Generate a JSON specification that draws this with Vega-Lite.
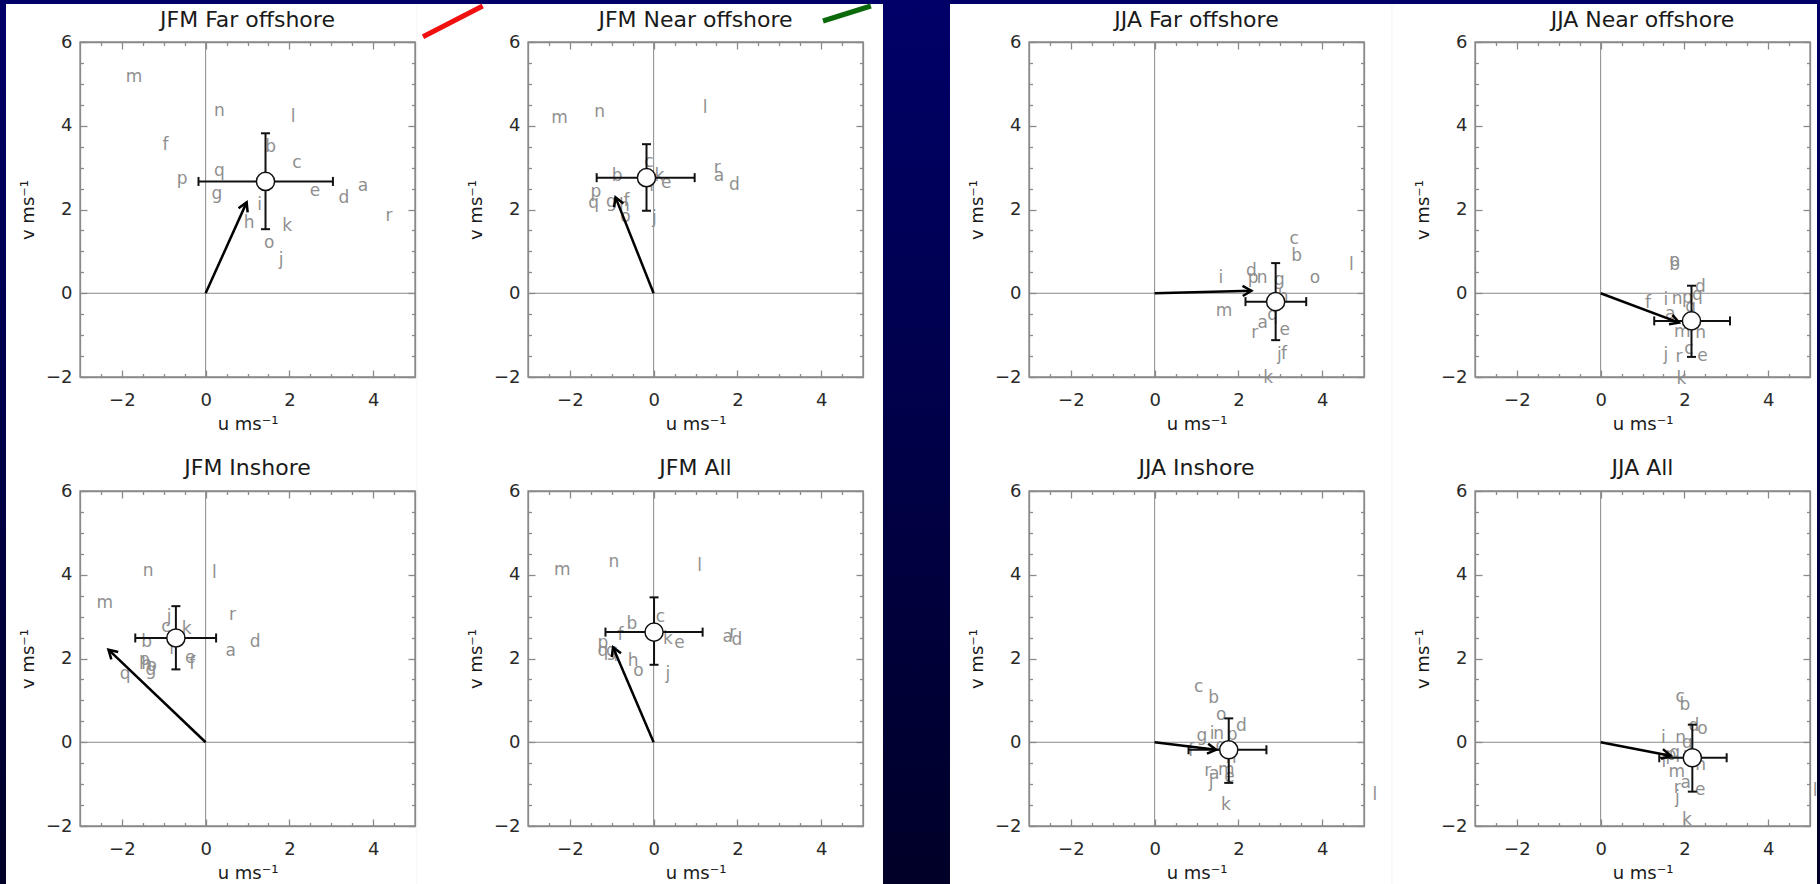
{
"$schema":"https://vega.github.io/schema/vega-lite/v6.json",
"background":"#000044",
"padding":0,
"columns":4,
"spacing":0,
"bounds":"full",
"align":"each",
"config":{
 "view":{"stroke":null},
 "title":{"font":"DejaVu Sans","fontSize":22,"fontWeight":"normal","color":"#1a1a1a","baseline":"alphabetic","frame":"group","anchor":"middle"},
 "axis":{"zindex":1,"grid":false,"domainColor":"#8a8a8a","tickColor":"#8a8a8a","domainWidth":1.3,"tickWidth":1.3,"labelColor":"#2a2a2a","titleColor":"#1a1a1a","labelFont":"DejaVu Sans","labelFontSize":18,"titleFont":"DejaVu Sans","titleFontSize":18,"titleFontWeight":"normal"}
},
"datasets":{
"letters":[
{"panel":"p1","lab":"a","u":3.76,"v":2.57},{"panel":"p1","lab":"b","u":1.55,"v":3.50},{"panel":"p1","lab":"c","u":2.18,"v":3.11},{"panel":"p1","lab":"d","u":3.30,"v":2.28},{"panel":"p1","lab":"e","u":2.61,"v":2.43},{"panel":"p1","lab":"f","u":-0.96,"v":3.53},{"panel":"p1","lab":"g","u":0.27,"v":2.37},{"panel":"p1","lab":"h","u":1.04,"v":1.67},{"panel":"p1","lab":"i","u":1.29,"v":2.11},{"panel":"p1","lab":"j","u":1.80,"v":0.80},{"panel":"p1","lab":"k","u":1.95,"v":1.61},{"panel":"p1","lab":"l","u":2.09,"v":4.22},{"panel":"p1","lab":"m","u":-1.71,"v":5.16},{"panel":"p1","lab":"n","u":0.33,"v":4.36},{"panel":"p1","lab":"o","u":1.52,"v":1.19},{"panel":"p1","lab":"p","u":-0.56,"v":2.73},{"panel":"p1","lab":"q","u":0.33,"v":2.92},{"panel":"p1","lab":"r","u":4.38,"v":1.85},
{"panel":"p2","lab":"a","u":1.56,"v":2.81},{"panel":"p2","lab":"b","u":-0.87,"v":2.81},{"panel":"p2","lab":"c","u":-0.11,"v":3.14},{"panel":"p2","lab":"d","u":1.93,"v":2.59},{"panel":"p2","lab":"e","u":0.30,"v":2.63},{"panel":"p2","lab":"f","u":-0.65,"v":2.21},{"panel":"p2","lab":"g","u":-1.01,"v":2.19},{"panel":"p2","lab":"h","u":-0.70,"v":2.08},{"panel":"p2","lab":"i","u":-0.05,"v":2.55},{"panel":"p2","lab":"j","u":0.02,"v":1.79},{"panel":"p2","lab":"k","u":0.14,"v":2.79},{"panel":"p2","lab":"l","u":1.23,"v":4.42},{"panel":"p2","lab":"m","u":-2.25,"v":4.18},{"panel":"p2","lab":"n","u":-1.29,"v":4.32},{"panel":"p2","lab":"o","u":-0.67,"v":1.82},{"panel":"p2","lab":"p","u":-1.38,"v":2.41},{"panel":"p2","lab":"q","u":-1.43,"v":2.15},{"panel":"p2","lab":"r","u":1.52,"v":3.00},
{"panel":"p3","lab":"a","u":2.58,"v":-0.72},{"panel":"p3","lab":"b","u":3.39,"v":0.88},{"panel":"p3","lab":"c","u":3.33,"v":1.30},{"panel":"p3","lab":"d","u":2.31,"v":0.52},{"panel":"p3","lab":"e","u":3.11,"v":-0.88},{"panel":"p3","lab":"f","u":3.09,"v":-1.44},{"panel":"p3","lab":"g","u":2.98,"v":0.32},{"panel":"p3","lab":"h","u":3.07,"v":-0.08},{"panel":"p3","lab":"i","u":1.58,"v":0.36},{"panel":"p3","lab":"j","u":2.98,"v":-1.48},{"panel":"p3","lab":"k","u":2.71,"v":-2.02},{"panel":"p3","lab":"l","u":4.70,"v":0.68},{"panel":"p3","lab":"m","u":1.66,"v":-0.42},{"panel":"p3","lab":"n","u":2.57,"v":0.36},{"panel":"p3","lab":"o","u":3.83,"v":0.36},{"panel":"p3","lab":"p","u":2.35,"v":0.36},{"panel":"p3","lab":"q","u":2.82,"v":-0.52},{"panel":"p3","lab":"r","u":2.39,"v":-0.96},
{"panel":"p4","lab":"a","u":1.66,"v":-0.50},{"panel":"p4","lab":"b","u":1.77,"v":0.68},{"panel":"p4","lab":"c","u":2.11,"v":-1.32},{"panel":"p4","lab":"d","u":2.38,"v":0.16},{"panel":"p4","lab":"e","u":2.43,"v":-1.50},{"panel":"p4","lab":"f","u":1.13,"v":-0.24},{"panel":"p4","lab":"g","u":2.15,"v":-0.34},{"panel":"p4","lab":"h","u":2.39,"v":-0.96},{"panel":"p4","lab":"i","u":1.56,"v":-0.16},{"panel":"p4","lab":"j","u":1.56,"v":-1.48},{"panel":"p4","lab":"k","u":1.93,"v":-2.04},{"panel":"p4","lab":"m","u":1.95,"v":-0.92},{"panel":"p4","lab":"n","u":1.83,"v":-0.14},{"panel":"p4","lab":"o","u":1.77,"v":0.76},{"panel":"p4","lab":"p","u":2.07,"v":-0.12},{"panel":"p4","lab":"q","u":2.31,"v":-0.04},{"panel":"p4","lab":"r","u":1.87,"v":-1.52},
{"panel":"p5","lab":"a","u":0.60,"v":2.17},{"panel":"p5","lab":"b","u":-1.41,"v":2.39},{"panel":"p5","lab":"c","u":-0.95,"v":2.75},{"panel":"p5","lab":"d","u":1.18,"v":2.40},{"panel":"p5","lab":"e","u":-0.37,"v":2.01},{"panel":"p5","lab":"f","u":-0.32,"v":1.87},{"panel":"p5","lab":"g","u":-1.31,"v":1.73},{"panel":"p5","lab":"h","u":-1.41,"v":1.86},{"panel":"p5","lab":"i","u":-0.81,"v":2.23},{"panel":"p5","lab":"j","u":-0.87,"v":2.99},{"panel":"p5","lab":"k","u":-0.45,"v":2.71},{"panel":"p5","lab":"l","u":0.21,"v":4.04},{"panel":"p5","lab":"m","u":-2.41,"v":3.32},{"panel":"p5","lab":"n","u":-1.37,"v":4.08},{"panel":"p5","lab":"o","u":-1.29,"v":1.83},{"panel":"p5","lab":"p","u":-1.46,"v":1.97},{"panel":"p5","lab":"q","u":-1.92,"v":1.62},{"panel":"p5","lab":"r","u":0.64,"v":3.03},
{"panel":"p6","lab":"a","u":1.77,"v":2.51},{"panel":"p6","lab":"b","u":-0.52,"v":2.83},{"panel":"p6","lab":"c","u":0.16,"v":2.99},{"panel":"p6","lab":"d","u":1.99,"v":2.44},{"panel":"p6","lab":"e","u":0.62,"v":2.36},{"panel":"p6","lab":"f","u":-0.79,"v":2.55},{"panel":"p6","lab":"g","u":-1.01,"v":2.17},{"panel":"p6","lab":"h","u":-0.49,"v":1.93},{"panel":"p6","lab":"i","u":-0.90,"v":2.05},{"panel":"p6","lab":"j","u":0.34,"v":1.63},{"panel":"p6","lab":"k","u":0.34,"v":2.47},{"panel":"p6","lab":"l","u":1.10,"v":4.22},{"panel":"p6","lab":"m","u":-2.18,"v":4.12},{"panel":"p6","lab":"n","u":-0.95,"v":4.30},{"panel":"p6","lab":"o","u":-0.36,"v":1.69},{"panel":"p6","lab":"p","u":-1.21,"v":2.37},{"panel":"p6","lab":"q","u":-1.21,"v":2.17},{"panel":"p6","lab":"r","u":1.89,"v":2.61},
{"panel":"p7","lab":"a","u":1.42,"v":-0.76},{"panel":"p7","lab":"b","u":1.41,"v":1.05},{"panel":"p7","lab":"c","u":1.05,"v":1.33},{"panel":"p7","lab":"d","u":2.07,"v":0.38},{"panel":"p7","lab":"e","u":1.79,"v":-0.82},{"panel":"p7","lab":"f","u":0.87,"v":-0.22},{"panel":"p7","lab":"g","u":1.13,"v":0.14},{"panel":"p7","lab":"h","u":1.83,"v":-0.38},{"panel":"p7","lab":"i","u":1.37,"v":0.20},{"panel":"p7","lab":"j","u":1.35,"v":-0.94},{"panel":"p7","lab":"k","u":1.70,"v":-1.49},{"panel":"p7","lab":"l","u":5.26,"v":-1.26},{"panel":"p7","lab":"m","u":1.71,"v":-0.66},{"panel":"p7","lab":"n","u":1.53,"v":0.20},{"panel":"p7","lab":"o","u":1.59,"v":0.65},{"panel":"p7","lab":"p","u":1.85,"v":0.18},{"panel":"p7","lab":"q","u":1.58,"v":-0.09},{"panel":"p7","lab":"r","u":1.27,"v":-0.68},
{"panel":"p8","lab":"a","u":2.03,"v":-0.98},{"panel":"p8","lab":"b","u":2.01,"v":0.88},{"panel":"p8","lab":"c","u":1.90,"v":1.09},{"panel":"p8","lab":"d","u":2.23,"v":0.38},{"panel":"p8","lab":"e","u":2.38,"v":-1.14},{"panel":"p8","lab":"f","u":1.52,"v":-0.46},{"panel":"p8","lab":"g","u":2.07,"v":-0.02},{"panel":"p8","lab":"h","u":2.39,"v":-0.54},{"panel":"p8","lab":"i","u":1.50,"v":0.10},{"panel":"p8","lab":"j","u":1.83,"v":-1.34},{"panel":"p8","lab":"k","u":2.06,"v":-1.86},{"panel":"p8","lab":"l","u":5.12,"v":-1.17},{"panel":"p8","lab":"m","u":1.82,"v":-0.70},{"panel":"p8","lab":"n","u":1.91,"v":0.10},{"panel":"p8","lab":"o","u":2.43,"v":0.31},{"panel":"p8","lab":"p","u":1.68,"v":-0.30},{"panel":"p8","lab":"q","u":1.77,"v":-0.26},{"panel":"p8","lab":"r","u":1.83,"v":-1.10}
],
"stats":[
{"panel":"p1","um":1.43,"vm":2.67,"ulo":-0.17,"uhi":3.04,"vlo":1.53,"vhi":3.82,"u0":0,"v0":0,"au":0.98,"av":2.17},
{"panel":"p2","um":-0.17,"vm":2.76,"ulo":-1.36,"uhi":0.98,"vlo":1.97,"vhi":3.56,"u0":0,"v0":0,"au":-0.91,"av":2.29},
{"panel":"p3","um":2.89,"vm":-0.20,"ulo":2.17,"uhi":3.62,"vlo":-1.12,"vhi":0.72,"u0":0,"v0":0,"au":2.31,"av":0.06},
{"panel":"p4","um":2.17,"vm":-0.66,"ulo":1.28,"uhi":3.09,"vlo":-1.52,"vhi":0.18,"u0":0,"v0":0,"au":1.87,"av":-0.70},
{"panel":"p5","um":-0.71,"vm":2.49,"ulo":-1.68,"uhi":0.25,"vlo":1.74,"vhi":3.25,"u0":0,"v0":0,"au":-2.32,"av":2.21},
{"panel":"p6","um":0.01,"vm":2.63,"ulo":-1.15,"uhi":1.17,"vlo":1.85,"vhi":3.46,"u0":0,"v0":0,"au":-0.97,"av":2.27},
{"panel":"p7","um":1.77,"vm":-0.18,"ulo":0.81,"uhi":2.67,"vlo":-0.97,"vhi":0.57,"u0":0,"v0":0,"au":1.47,"av":-0.18},
{"panel":"p8","um":2.19,"vm":-0.37,"ulo":1.40,"uhi":3.01,"vlo":-1.18,"vhi":0.42,"u0":0,"v0":0,"au":1.67,"av":-0.32}
]
},
"concat":[
{"title":{"text":"JFM Far offshore","offset":-32},"width":335,"height":335,"resolve":{"axis":{"x":"independent","y":"independent"}},
"layer":[
{"data":{"values":[{}]},"mark":{"type":"rect","fill":{"gradient":"linear","x1":0,"y1":0,"x2":0,"y2":1,"stops":[{"offset":0,"color":"#000068"},{"offset":1,"color":"#000048"}]}},"encoding":{"x":{"datum":-4.90997,"type":"quantitative","scale":{"domain":[-3,5],"nice":false,"zero":false},"axis":null},"x2":{"datum":5.047284},"y":{"datum":7.002507,"type":"quantitative","scale":{"domain":[-2,6],"nice":false,"zero":false},"axis":null},"y2":{"datum":-3.504}}},
{"data":{"values":[{}]},"mark":{"type":"rect","fill":"#ffffff"},"encoding":{"x":{"datum":-4.76716,"type":"quantitative","scale":{"domain":[-3,5],"nice":false,"zero":false},"axis":null},"x2":{"datum":5.047284},"y":{"datum":6.90746,"type":"quantitative","scale":{"domain":[-2,6],"nice":false,"zero":false},"axis":null},"y2":{"datum":-3.504}}},
{"data":{"values":[{}]},"mark":{"type":"rule","color":"#8a8a8a","strokeWidth":1},"encoding":{"x":{"datum":0,"type":"quantitative","scale":{"domain":[-3,5],"nice":false,"zero":false},"axis":null},"y":{"datum":-2,"type":"quantitative","scale":{"domain":[-2,6],"nice":false,"zero":false},"axis":null},"y2":{"datum":6}}},
{"data":{"values":[{}]},"mark":{"type":"rule","color":"#8a8a8a","strokeWidth":1},"encoding":{"y":{"datum":0,"type":"quantitative","scale":{"domain":[-2,6],"nice":false,"zero":false},"axis":null},"x":{"datum":-3,"type":"quantitative","scale":{"domain":[-3,5],"nice":false,"zero":false},"axis":null},"x2":{"datum":5}}},
{"data":{"values":[{}]},"mark":{"type":"rect","fill":null,"stroke":"#8a8a8a","strokeWidth":1.3},"encoding":{"x":{"datum":-3,"type":"quantitative","scale":{"domain":[-3,5],"nice":false,"zero":false},"axis":null},"x2":{"datum":5},"y":{"datum":-2,"type":"quantitative","scale":{"domain":[-2,6],"nice":false,"zero":false},"axis":null},"y2":{"datum":6}}},
{"data":{"name":"letters"},"transform":[{"filter":"datum.panel === 'p1'"}],"mark":{"type":"text","font":"DejaVu Sans","fontSize":17,"color":"#8f8f8f","align":"center","baseline":"middle"},"encoding":{"x":{"field":"u","type":"quantitative","scale":{"domain":[-3,5],"nice":false,"zero":false},"axis":{"orient":"bottom","zindex":1,"values":[-2,0,2,4],"tickSize":-7,"labelPadding":21,"labelFlush":false,"labelOverlap":false,"title":"u  ms\u207b\u00b9","titleY":52,"titleBaseline":"alphabetic"}},"y":{"field":"v","type":"quantitative","scale":{"domain":[-2,6],"nice":false,"zero":false},"axis":{"orient":"left","zindex":1,"values":[-2,0,2,4,6],"tickSize":-7,"labelPadding":15,"labelFlush":false,"labelOverlap":false,"title":"v  ms\u207b\u00b9","titleX":-47,"titleBaseline":"alphabetic"}},"text":{"field":"lab"}}},
{"data":{"name":"stats"},"transform":[{"filter":"datum.panel === 'p1'"}],"mark":{"type":"rule","color":"#111111","strokeWidth":2},"encoding":{"x":{"field":"ulo","type":"quantitative","scale":{"domain":[-3,5],"nice":false,"zero":false},"axis":{"orient":"top","zindex":1,"values":[-2,0,2,4],"tickSize":-7,"labels":false,"title":null}},"x2":{"field":"uhi"},"y":{"field":"vm","type":"quantitative","scale":{"domain":[-2,6],"nice":false,"zero":false},"axis":{"orient":"right","zindex":1,"values":[-2,0,2,4,6],"tickSize":-7,"labels":false,"title":null}}}},
{"data":{"name":"stats"},"transform":[{"filter":"datum.panel === 'p1'"}],"mark":{"type":"rule","color":"#111111","strokeWidth":2},"encoding":{"x":{"field":"um","type":"quantitative","scale":{"domain":[-3,5],"nice":false,"zero":false},"axis":{"orient":"bottom","zindex":1,"values":[-2.5,-1.5,-1,-0.5,0.5,1,1.5,2.5,3,3.5,4.5],"tickSize":-3.5,"labels":false,"domain":false,"title":null}},"y":{"field":"vlo","type":"quantitative","scale":{"domain":[-2,6],"nice":false,"zero":false},"axis":{"orient":"left","zindex":1,"values":[-1.5,-1,-0.5,0.5,1,1.5,2.5,3,3.5,4.5,5,5.5],"tickSize":-3.5,"labels":false,"domain":false,"title":null}},"y2":{"field":"vhi"}}},
{"data":{"name":"stats"},"transform":[{"filter":"datum.panel === 'p1'"},{"fold":["ulo","uhi"],"as":["kind","cu"]}],"mark":{"type":"point","shape":"M 0 -1 L 0 1","filled":false,"stroke":"#111111","strokeWidth":2,"opacity":1,"size":81},"encoding":{"x":{"field":"cu","type":"quantitative","scale":{"domain":[-3,5],"nice":false,"zero":false},"axis":null},"y":{"field":"vm","type":"quantitative","scale":{"domain":[-2,6],"nice":false,"zero":false},"axis":null}}},
{"data":{"name":"stats"},"transform":[{"filter":"datum.panel === 'p1'"},{"fold":["vlo","vhi"],"as":["kind","cv"]}],"mark":{"type":"point","shape":"M -1 0 L 1 0","filled":false,"stroke":"#111111","strokeWidth":2,"opacity":1,"size":81},"encoding":{"x":{"field":"um","type":"quantitative","scale":{"domain":[-3,5],"nice":false,"zero":false},"axis":null},"y":{"field":"cv","type":"quantitative","scale":{"domain":[-2,6],"nice":false,"zero":false},"axis":null}}},
{"data":{"name":"stats"},"transform":[{"filter":"datum.panel === 'p1'"}],"mark":{"type":"circle","fill":"#ffffff","stroke":"#111111","strokeWidth":1.5,"opacity":1,"size":330},"encoding":{"x":{"field":"um","type":"quantitative","scale":{"domain":[-3,5],"nice":false,"zero":false},"axis":{"orient":"top","zindex":1,"values":[-2.5,-1.5,-1,-0.5,0.5,1,1.5,2.5,3,3.5,4.5],"tickSize":-3.5,"labels":false,"domain":false,"title":null}},"y":{"field":"vm","type":"quantitative","scale":{"domain":[-2,6],"nice":false,"zero":false},"axis":{"orient":"right","zindex":1,"values":[-1.5,-1,-0.5,0.5,1,1.5,2.5,3,3.5,4.5,5,5.5],"tickSize":-3.5,"labels":false,"domain":false,"title":null}}}},
{"data":{"name":"stats"},"transform":[{"filter":"datum.panel === 'p1'"}],"mark":{"type":"rule","color":"#000000","strokeWidth":2.5},"encoding":{"x":{"field":"u0","type":"quantitative","scale":{"domain":[-3,5],"nice":false,"zero":false},"axis":null},"y":{"field":"v0","type":"quantitative","scale":{"domain":[-2,6],"nice":false,"zero":false},"axis":null},"x2":{"field":"au"},"y2":{"field":"av"}}},
{"data":{"name":"stats"},"transform":[{"filter":"datum.panel === 'p1'"},{"calculate":"atan2(datum.au, datum.av) * 180 / PI","as":"ang"}],"mark":{"type":"point","shape":"M -0.5 0.87 L 0 0 L 0.5 0.87","filled":false,"stroke":"#000000","strokeWidth":2.5,"opacity":1,"size":400,"strokeJoin":"miter"},"encoding":{"x":{"field":"au","type":"quantitative","scale":{"domain":[-3,5],"nice":false,"zero":false},"axis":null},"y":{"field":"av","type":"quantitative","scale":{"domain":[-2,6],"nice":false,"zero":false},"axis":null},"angle":{"field":"ang","type":"quantitative","scale":null}}}
]},
{"title":{"text":"JFM Near offshore","offset":-32},"width":335,"height":335,"resolve":{"axis":{"x":"independent","y":"independent"}},
"layer":[
{"data":{"values":[{}]},"mark":{"type":"rect","fill":{"gradient":"linear","x1":0,"y1":0,"x2":0,"y2":1,"stops":[{"offset":0,"color":"#000068"},{"offset":1,"color":"#000048"}]}},"encoding":{"x":{"datum":-5.650269,"type":"quantitative","scale":{"domain":[-3,5],"nice":false,"zero":false},"axis":null},"x2":{"datum":6.265194},"y":{"datum":7.002507,"type":"quantitative","scale":{"domain":[-2,6],"nice":false,"zero":false},"axis":null},"y2":{"datum":-3.504}}},
{"data":{"values":[{}]},"mark":{"type":"rect","fill":"#ffffff"},"encoding":{"x":{"datum":-5.650269,"type":"quantitative","scale":{"domain":[-3,5],"nice":false,"zero":false},"axis":null},"x2":{"datum":5.47761},"y":{"datum":6.90746,"type":"quantitative","scale":{"domain":[-2,6],"nice":false,"zero":false},"axis":null},"y2":{"datum":-3.504}}},
{"data":{"values":[{}]},"mark":{"type":"rule","color":"#f01010","strokeWidth":5},"encoding":{"x":{"datum":-5.50746,"type":"quantitative","scale":{"domain":[-3,5],"nice":false,"zero":false},"axis":null},"y":{"datum":6.12418,"type":"quantitative","scale":{"domain":[-2,6],"nice":false,"zero":false},"axis":null},"x2":{"datum":-4.08179},"y2":{"datum":6.859701}}},
{"data":{"values":[{}]},"mark":{"type":"rule","color":"#0a6a0a","strokeWidth":5},"encoding":{"x":{"datum":4.04478,"type":"quantitative","scale":{"domain":[-3,5],"nice":false,"zero":false},"axis":null},"y":{"datum":6.50149,"type":"quantitative","scale":{"domain":[-2,6],"nice":false,"zero":false},"axis":null},"x2":{"datum":5.18866},"y2":{"datum":6.859701}}},
{"data":{"values":[{}]},"mark":{"type":"rule","color":"#8a8a8a","strokeWidth":1},"encoding":{"x":{"datum":0,"type":"quantitative","scale":{"domain":[-3,5],"nice":false,"zero":false},"axis":null},"y":{"datum":-2,"type":"quantitative","scale":{"domain":[-2,6],"nice":false,"zero":false},"axis":null},"y2":{"datum":6}}},
{"data":{"values":[{}]},"mark":{"type":"rule","color":"#8a8a8a","strokeWidth":1},"encoding":{"y":{"datum":0,"type":"quantitative","scale":{"domain":[-2,6],"nice":false,"zero":false},"axis":null},"x":{"datum":-3,"type":"quantitative","scale":{"domain":[-3,5],"nice":false,"zero":false},"axis":null},"x2":{"datum":5}}},
{"data":{"values":[{}]},"mark":{"type":"rect","fill":null,"stroke":"#8a8a8a","strokeWidth":1.3},"encoding":{"x":{"datum":-3,"type":"quantitative","scale":{"domain":[-3,5],"nice":false,"zero":false},"axis":null},"x2":{"datum":5},"y":{"datum":-2,"type":"quantitative","scale":{"domain":[-2,6],"nice":false,"zero":false},"axis":null},"y2":{"datum":6}}},
{"data":{"name":"letters"},"transform":[{"filter":"datum.panel === 'p2'"}],"mark":{"type":"text","font":"DejaVu Sans","fontSize":17,"color":"#8f8f8f","align":"center","baseline":"middle"},"encoding":{"x":{"field":"u","type":"quantitative","scale":{"domain":[-3,5],"nice":false,"zero":false},"axis":{"orient":"bottom","zindex":1,"values":[-2,0,2,4],"tickSize":-7,"labelPadding":21,"labelFlush":false,"labelOverlap":false,"title":"u  ms\u207b\u00b9","titleY":52,"titleBaseline":"alphabetic"}},"y":{"field":"v","type":"quantitative","scale":{"domain":[-2,6],"nice":false,"zero":false},"axis":{"orient":"left","zindex":1,"values":[-2,0,2,4,6],"tickSize":-7,"labelPadding":15,"labelFlush":false,"labelOverlap":false,"title":"v  ms\u207b\u00b9","titleX":-47,"titleBaseline":"alphabetic"}},"text":{"field":"lab"}}},
{"data":{"name":"stats"},"transform":[{"filter":"datum.panel === 'p2'"}],"mark":{"type":"rule","color":"#111111","strokeWidth":2},"encoding":{"x":{"field":"ulo","type":"quantitative","scale":{"domain":[-3,5],"nice":false,"zero":false},"axis":{"orient":"top","zindex":1,"values":[-2,0,2,4],"tickSize":-7,"labels":false,"title":null}},"x2":{"field":"uhi"},"y":{"field":"vm","type":"quantitative","scale":{"domain":[-2,6],"nice":false,"zero":false},"axis":{"orient":"right","zindex":1,"values":[-2,0,2,4,6],"tickSize":-7,"labels":false,"title":null}}}},
{"data":{"name":"stats"},"transform":[{"filter":"datum.panel === 'p2'"}],"mark":{"type":"rule","color":"#111111","strokeWidth":2},"encoding":{"x":{"field":"um","type":"quantitative","scale":{"domain":[-3,5],"nice":false,"zero":false},"axis":{"orient":"bottom","zindex":1,"values":[-2.5,-1.5,-1,-0.5,0.5,1,1.5,2.5,3,3.5,4.5],"tickSize":-3.5,"labels":false,"domain":false,"title":null}},"y":{"field":"vlo","type":"quantitative","scale":{"domain":[-2,6],"nice":false,"zero":false},"axis":{"orient":"left","zindex":1,"values":[-1.5,-1,-0.5,0.5,1,1.5,2.5,3,3.5,4.5,5,5.5],"tickSize":-3.5,"labels":false,"domain":false,"title":null}},"y2":{"field":"vhi"}}},
{"data":{"name":"stats"},"transform":[{"filter":"datum.panel === 'p2'"},{"fold":["ulo","uhi"],"as":["kind","cu"]}],"mark":{"type":"point","shape":"M 0 -1 L 0 1","filled":false,"stroke":"#111111","strokeWidth":2,"opacity":1,"size":81},"encoding":{"x":{"field":"cu","type":"quantitative","scale":{"domain":[-3,5],"nice":false,"zero":false},"axis":null},"y":{"field":"vm","type":"quantitative","scale":{"domain":[-2,6],"nice":false,"zero":false},"axis":null}}},
{"data":{"name":"stats"},"transform":[{"filter":"datum.panel === 'p2'"},{"fold":["vlo","vhi"],"as":["kind","cv"]}],"mark":{"type":"point","shape":"M -1 0 L 1 0","filled":false,"stroke":"#111111","strokeWidth":2,"opacity":1,"size":81},"encoding":{"x":{"field":"um","type":"quantitative","scale":{"domain":[-3,5],"nice":false,"zero":false},"axis":null},"y":{"field":"cv","type":"quantitative","scale":{"domain":[-2,6],"nice":false,"zero":false},"axis":null}}},
{"data":{"name":"stats"},"transform":[{"filter":"datum.panel === 'p2'"}],"mark":{"type":"circle","fill":"#ffffff","stroke":"#111111","strokeWidth":1.5,"opacity":1,"size":330},"encoding":{"x":{"field":"um","type":"quantitative","scale":{"domain":[-3,5],"nice":false,"zero":false},"axis":{"orient":"top","zindex":1,"values":[-2.5,-1.5,-1,-0.5,0.5,1,1.5,2.5,3,3.5,4.5],"tickSize":-3.5,"labels":false,"domain":false,"title":null}},"y":{"field":"vm","type":"quantitative","scale":{"domain":[-2,6],"nice":false,"zero":false},"axis":{"orient":"right","zindex":1,"values":[-1.5,-1,-0.5,0.5,1,1.5,2.5,3,3.5,4.5,5,5.5],"tickSize":-3.5,"labels":false,"domain":false,"title":null}}}},
{"data":{"name":"stats"},"transform":[{"filter":"datum.panel === 'p2'"}],"mark":{"type":"rule","color":"#000000","strokeWidth":2.5},"encoding":{"x":{"field":"u0","type":"quantitative","scale":{"domain":[-3,5],"nice":false,"zero":false},"axis":null},"y":{"field":"v0","type":"quantitative","scale":{"domain":[-2,6],"nice":false,"zero":false},"axis":null},"x2":{"field":"au"},"y2":{"field":"av"}}},
{"data":{"name":"stats"},"transform":[{"filter":"datum.panel === 'p2'"},{"calculate":"atan2(datum.au, datum.av) * 180 / PI","as":"ang"}],"mark":{"type":"point","shape":"M -0.5 0.87 L 0 0 L 0.5 0.87","filled":false,"stroke":"#000000","strokeWidth":2.5,"opacity":1,"size":400,"strokeJoin":"miter"},"encoding":{"x":{"field":"au","type":"quantitative","scale":{"domain":[-3,5],"nice":false,"zero":false},"axis":null},"y":{"field":"av","type":"quantitative","scale":{"domain":[-2,6],"nice":false,"zero":false},"axis":null},"angle":{"field":"ang","type":"quantitative","scale":null}}}
]},
{"title":{"text":"JJA Far offshore","offset":-32},"width":335,"height":335,"resolve":{"axis":{"x":"independent","y":"independent"}},
"layer":[
{"data":{"values":[{}]},"mark":{"type":"rect","fill":{"gradient":"linear","x1":0,"y1":0,"x2":0,"y2":1,"stops":[{"offset":0,"color":"#000068"},{"offset":1,"color":"#000048"}]}},"encoding":{"x":{"datum":-5.69803,"type":"quantitative","scale":{"domain":[-3,5],"nice":false,"zero":false},"axis":null},"x2":{"datum":5.668179},"y":{"datum":7.002507,"type":"quantitative","scale":{"domain":[-2,6],"nice":false,"zero":false},"axis":null},"y2":{"datum":-3.504}}},
{"data":{"values":[{}]},"mark":{"type":"rect","fill":"#ffffff"},"encoding":{"x":{"datum":-4.88657,"type":"quantitative","scale":{"domain":[-3,5],"nice":false,"zero":false},"axis":null},"x2":{"datum":5.668179},"y":{"datum":6.90746,"type":"quantitative","scale":{"domain":[-2,6],"nice":false,"zero":false},"axis":null},"y2":{"datum":-3.504}}},
{"data":{"values":[{}]},"mark":{"type":"rule","color":"#8a8a8a","strokeWidth":1},"encoding":{"x":{"datum":0,"type":"quantitative","scale":{"domain":[-3,5],"nice":false,"zero":false},"axis":null},"y":{"datum":-2,"type":"quantitative","scale":{"domain":[-2,6],"nice":false,"zero":false},"axis":null},"y2":{"datum":6}}},
{"data":{"values":[{}]},"mark":{"type":"rule","color":"#8a8a8a","strokeWidth":1},"encoding":{"y":{"datum":0,"type":"quantitative","scale":{"domain":[-2,6],"nice":false,"zero":false},"axis":null},"x":{"datum":-3,"type":"quantitative","scale":{"domain":[-3,5],"nice":false,"zero":false},"axis":null},"x2":{"datum":5}}},
{"data":{"values":[{}]},"mark":{"type":"rect","fill":null,"stroke":"#8a8a8a","strokeWidth":1.3},"encoding":{"x":{"datum":-3,"type":"quantitative","scale":{"domain":[-3,5],"nice":false,"zero":false},"axis":null},"x2":{"datum":5},"y":{"datum":-2,"type":"quantitative","scale":{"domain":[-2,6],"nice":false,"zero":false},"axis":null},"y2":{"datum":6}}},
{"data":{"name":"letters"},"transform":[{"filter":"datum.panel === 'p3'"}],"mark":{"type":"text","font":"DejaVu Sans","fontSize":17,"color":"#8f8f8f","align":"center","baseline":"middle"},"encoding":{"x":{"field":"u","type":"quantitative","scale":{"domain":[-3,5],"nice":false,"zero":false},"axis":{"orient":"bottom","zindex":1,"values":[-2,0,2,4],"tickSize":-7,"labelPadding":21,"labelFlush":false,"labelOverlap":false,"title":"u  ms\u207b\u00b9","titleY":52,"titleBaseline":"alphabetic"}},"y":{"field":"v","type":"quantitative","scale":{"domain":[-2,6],"nice":false,"zero":false},"axis":{"orient":"left","zindex":1,"values":[-2,0,2,4,6],"tickSize":-7,"labelPadding":15,"labelFlush":false,"labelOverlap":false,"title":"v  ms\u207b\u00b9","titleX":-47,"titleBaseline":"alphabetic"}},"text":{"field":"lab"}}},
{"data":{"name":"stats"},"transform":[{"filter":"datum.panel === 'p3'"}],"mark":{"type":"rule","color":"#111111","strokeWidth":2},"encoding":{"x":{"field":"ulo","type":"quantitative","scale":{"domain":[-3,5],"nice":false,"zero":false},"axis":{"orient":"top","zindex":1,"values":[-2,0,2,4],"tickSize":-7,"labels":false,"title":null}},"x2":{"field":"uhi"},"y":{"field":"vm","type":"quantitative","scale":{"domain":[-2,6],"nice":false,"zero":false},"axis":{"orient":"right","zindex":1,"values":[-2,0,2,4,6],"tickSize":-7,"labels":false,"title":null}}}},
{"data":{"name":"stats"},"transform":[{"filter":"datum.panel === 'p3'"}],"mark":{"type":"rule","color":"#111111","strokeWidth":2},"encoding":{"x":{"field":"um","type":"quantitative","scale":{"domain":[-3,5],"nice":false,"zero":false},"axis":{"orient":"bottom","zindex":1,"values":[-2.5,-1.5,-1,-0.5,0.5,1,1.5,2.5,3,3.5,4.5],"tickSize":-3.5,"labels":false,"domain":false,"title":null}},"y":{"field":"vlo","type":"quantitative","scale":{"domain":[-2,6],"nice":false,"zero":false},"axis":{"orient":"left","zindex":1,"values":[-1.5,-1,-0.5,0.5,1,1.5,2.5,3,3.5,4.5,5,5.5],"tickSize":-3.5,"labels":false,"domain":false,"title":null}},"y2":{"field":"vhi"}}},
{"data":{"name":"stats"},"transform":[{"filter":"datum.panel === 'p3'"},{"fold":["ulo","uhi"],"as":["kind","cu"]}],"mark":{"type":"point","shape":"M 0 -1 L 0 1","filled":false,"stroke":"#111111","strokeWidth":2,"opacity":1,"size":81},"encoding":{"x":{"field":"cu","type":"quantitative","scale":{"domain":[-3,5],"nice":false,"zero":false},"axis":null},"y":{"field":"vm","type":"quantitative","scale":{"domain":[-2,6],"nice":false,"zero":false},"axis":null}}},
{"data":{"name":"stats"},"transform":[{"filter":"datum.panel === 'p3'"},{"fold":["vlo","vhi"],"as":["kind","cv"]}],"mark":{"type":"point","shape":"M -1 0 L 1 0","filled":false,"stroke":"#111111","strokeWidth":2,"opacity":1,"size":81},"encoding":{"x":{"field":"um","type":"quantitative","scale":{"domain":[-3,5],"nice":false,"zero":false},"axis":null},"y":{"field":"cv","type":"quantitative","scale":{"domain":[-2,6],"nice":false,"zero":false},"axis":null}}},
{"data":{"name":"stats"},"transform":[{"filter":"datum.panel === 'p3'"}],"mark":{"type":"circle","fill":"#ffffff","stroke":"#111111","strokeWidth":1.5,"opacity":1,"size":330},"encoding":{"x":{"field":"um","type":"quantitative","scale":{"domain":[-3,5],"nice":false,"zero":false},"axis":{"orient":"top","zindex":1,"values":[-2.5,-1.5,-1,-0.5,0.5,1,1.5,2.5,3,3.5,4.5],"tickSize":-3.5,"labels":false,"domain":false,"title":null}},"y":{"field":"vm","type":"quantitative","scale":{"domain":[-2,6],"nice":false,"zero":false},"axis":{"orient":"right","zindex":1,"values":[-1.5,-1,-0.5,0.5,1,1.5,2.5,3,3.5,4.5,5,5.5],"tickSize":-3.5,"labels":false,"domain":false,"title":null}}}},
{"data":{"name":"stats"},"transform":[{"filter":"datum.panel === 'p3'"}],"mark":{"type":"rule","color":"#000000","strokeWidth":2.5},"encoding":{"x":{"field":"u0","type":"quantitative","scale":{"domain":[-3,5],"nice":false,"zero":false},"axis":null},"y":{"field":"v0","type":"quantitative","scale":{"domain":[-2,6],"nice":false,"zero":false},"axis":null},"x2":{"field":"au"},"y2":{"field":"av"}}},
{"data":{"name":"stats"},"transform":[{"filter":"datum.panel === 'p3'"},{"calculate":"atan2(datum.au, datum.av) * 180 / PI","as":"ang"}],"mark":{"type":"point","shape":"M -0.5 0.87 L 0 0 L 0.5 0.87","filled":false,"stroke":"#000000","strokeWidth":2.5,"opacity":1,"size":400,"strokeJoin":"miter"},"encoding":{"x":{"field":"au","type":"quantitative","scale":{"domain":[-3,5],"nice":false,"zero":false},"axis":null},"y":{"field":"av","type":"quantitative","scale":{"domain":[-2,6],"nice":false,"zero":false},"axis":null},"angle":{"field":"ang","type":"quantitative","scale":null}}}
]},
{"title":{"text":"JJA Near offshore","offset":-32},"width":335,"height":335,"resolve":{"axis":{"x":"independent","y":"independent"}},
"layer":[
{"data":{"values":[{}]},"mark":{"type":"rect","fill":{"gradient":"linear","x1":0,"y1":0,"x2":0,"y2":1,"stops":[{"offset":0,"color":"#000068"},{"offset":1,"color":"#000048"}]}},"encoding":{"x":{"datum":-4.981612,"type":"quantitative","scale":{"domain":[-3,5],"nice":false,"zero":false},"axis":null},"x2":{"datum":5.238328},"y":{"datum":7.002507,"type":"quantitative","scale":{"domain":[-2,6],"nice":false,"zero":false},"axis":null},"y2":{"datum":-3.504}}},
{"data":{"values":[{}]},"mark":{"type":"rect","fill":"#ffffff"},"encoding":{"x":{"datum":-4.981612,"type":"quantitative","scale":{"domain":[-3,5],"nice":false,"zero":false},"axis":null},"x2":{"datum":5.16716},"y":{"datum":6.90746,"type":"quantitative","scale":{"domain":[-2,6],"nice":false,"zero":false},"axis":null},"y2":{"datum":-3.504}}},
{"data":{"values":[{}]},"mark":{"type":"rule","color":"#8a8a8a","strokeWidth":1},"encoding":{"x":{"datum":0,"type":"quantitative","scale":{"domain":[-3,5],"nice":false,"zero":false},"axis":null},"y":{"datum":-2,"type":"quantitative","scale":{"domain":[-2,6],"nice":false,"zero":false},"axis":null},"y2":{"datum":6}}},
{"data":{"values":[{}]},"mark":{"type":"rule","color":"#8a8a8a","strokeWidth":1},"encoding":{"y":{"datum":0,"type":"quantitative","scale":{"domain":[-2,6],"nice":false,"zero":false},"axis":null},"x":{"datum":-3,"type":"quantitative","scale":{"domain":[-3,5],"nice":false,"zero":false},"axis":null},"x2":{"datum":5}}},
{"data":{"values":[{}]},"mark":{"type":"rect","fill":null,"stroke":"#8a8a8a","strokeWidth":1.3},"encoding":{"x":{"datum":-3,"type":"quantitative","scale":{"domain":[-3,5],"nice":false,"zero":false},"axis":null},"x2":{"datum":5},"y":{"datum":-2,"type":"quantitative","scale":{"domain":[-2,6],"nice":false,"zero":false},"axis":null},"y2":{"datum":6}}},
{"data":{"name":"letters"},"transform":[{"filter":"datum.panel === 'p4'"}],"mark":{"type":"text","font":"DejaVu Sans","fontSize":17,"color":"#8f8f8f","align":"center","baseline":"middle"},"encoding":{"x":{"field":"u","type":"quantitative","scale":{"domain":[-3,5],"nice":false,"zero":false},"axis":{"orient":"bottom","zindex":1,"values":[-2,0,2,4],"tickSize":-7,"labelPadding":21,"labelFlush":false,"labelOverlap":false,"title":"u  ms\u207b\u00b9","titleY":52,"titleBaseline":"alphabetic"}},"y":{"field":"v","type":"quantitative","scale":{"domain":[-2,6],"nice":false,"zero":false},"axis":{"orient":"left","zindex":1,"values":[-2,0,2,4,6],"tickSize":-7,"labelPadding":15,"labelFlush":false,"labelOverlap":false,"title":"v  ms\u207b\u00b9","titleX":-47,"titleBaseline":"alphabetic"}},"text":{"field":"lab"}}},
{"data":{"name":"stats"},"transform":[{"filter":"datum.panel === 'p4'"}],"mark":{"type":"rule","color":"#111111","strokeWidth":2},"encoding":{"x":{"field":"ulo","type":"quantitative","scale":{"domain":[-3,5],"nice":false,"zero":false},"axis":{"orient":"top","zindex":1,"values":[-2,0,2,4],"tickSize":-7,"labels":false,"title":null}},"x2":{"field":"uhi"},"y":{"field":"vm","type":"quantitative","scale":{"domain":[-2,6],"nice":false,"zero":false},"axis":{"orient":"right","zindex":1,"values":[-2,0,2,4,6],"tickSize":-7,"labels":false,"title":null}}}},
{"data":{"name":"stats"},"transform":[{"filter":"datum.panel === 'p4'"}],"mark":{"type":"rule","color":"#111111","strokeWidth":2},"encoding":{"x":{"field":"um","type":"quantitative","scale":{"domain":[-3,5],"nice":false,"zero":false},"axis":{"orient":"bottom","zindex":1,"values":[-2.5,-1.5,-1,-0.5,0.5,1,1.5,2.5,3,3.5,4.5],"tickSize":-3.5,"labels":false,"domain":false,"title":null}},"y":{"field":"vlo","type":"quantitative","scale":{"domain":[-2,6],"nice":false,"zero":false},"axis":{"orient":"left","zindex":1,"values":[-1.5,-1,-0.5,0.5,1,1.5,2.5,3,3.5,4.5,5,5.5],"tickSize":-3.5,"labels":false,"domain":false,"title":null}},"y2":{"field":"vhi"}}},
{"data":{"name":"stats"},"transform":[{"filter":"datum.panel === 'p4'"},{"fold":["ulo","uhi"],"as":["kind","cu"]}],"mark":{"type":"point","shape":"M 0 -1 L 0 1","filled":false,"stroke":"#111111","strokeWidth":2,"opacity":1,"size":81},"encoding":{"x":{"field":"cu","type":"quantitative","scale":{"domain":[-3,5],"nice":false,"zero":false},"axis":null},"y":{"field":"vm","type":"quantitative","scale":{"domain":[-2,6],"nice":false,"zero":false},"axis":null}}},
{"data":{"name":"stats"},"transform":[{"filter":"datum.panel === 'p4'"},{"fold":["vlo","vhi"],"as":["kind","cv"]}],"mark":{"type":"point","shape":"M -1 0 L 1 0","filled":false,"stroke":"#111111","strokeWidth":2,"opacity":1,"size":81},"encoding":{"x":{"field":"um","type":"quantitative","scale":{"domain":[-3,5],"nice":false,"zero":false},"axis":null},"y":{"field":"cv","type":"quantitative","scale":{"domain":[-2,6],"nice":false,"zero":false},"axis":null}}},
{"data":{"name":"stats"},"transform":[{"filter":"datum.panel === 'p4'"}],"mark":{"type":"circle","fill":"#ffffff","stroke":"#111111","strokeWidth":1.5,"opacity":1,"size":330},"encoding":{"x":{"field":"um","type":"quantitative","scale":{"domain":[-3,5],"nice":false,"zero":false},"axis":{"orient":"top","zindex":1,"values":[-2.5,-1.5,-1,-0.5,0.5,1,1.5,2.5,3,3.5,4.5],"tickSize":-3.5,"labels":false,"domain":false,"title":null}},"y":{"field":"vm","type":"quantitative","scale":{"domain":[-2,6],"nice":false,"zero":false},"axis":{"orient":"right","zindex":1,"values":[-1.5,-1,-0.5,0.5,1,1.5,2.5,3,3.5,4.5,5,5.5],"tickSize":-3.5,"labels":false,"domain":false,"title":null}}}},
{"data":{"name":"stats"},"transform":[{"filter":"datum.panel === 'p4'"}],"mark":{"type":"rule","color":"#000000","strokeWidth":2.5},"encoding":{"x":{"field":"u0","type":"quantitative","scale":{"domain":[-3,5],"nice":false,"zero":false},"axis":null},"y":{"field":"v0","type":"quantitative","scale":{"domain":[-2,6],"nice":false,"zero":false},"axis":null},"x2":{"field":"au"},"y2":{"field":"av"}}},
{"data":{"name":"stats"},"transform":[{"filter":"datum.panel === 'p4'"},{"calculate":"atan2(datum.au, datum.av) * 180 / PI","as":"ang"}],"mark":{"type":"point","shape":"M -0.5 0.87 L 0 0 L 0.5 0.87","filled":false,"stroke":"#000000","strokeWidth":2.5,"opacity":1,"size":400,"strokeJoin":"miter"},"encoding":{"x":{"field":"au","type":"quantitative","scale":{"domain":[-3,5],"nice":false,"zero":false},"axis":null},"y":{"field":"av","type":"quantitative","scale":{"domain":[-2,6],"nice":false,"zero":false},"axis":null},"angle":{"field":"ang","type":"quantitative","scale":null}}}
]},
{"title":{"text":"JFM Inshore","offset":-40},"width":335,"height":335,"resolve":{"axis":{"x":"independent","y":"independent"}},
"layer":[
{"data":{"values":[{}]},"mark":{"type":"rect","fill":{"gradient":"linear","x1":0,"y1":0,"x2":0,"y2":1,"stops":[{"offset":0,"color":"#000048"},{"offset":1,"color":"#000028"}]}},"encoding":{"x":{"datum":-4.90997,"type":"quantitative","scale":{"domain":[-3,5],"nice":false,"zero":false},"axis":null},"x2":{"datum":5.047284},"y":{"datum":7.217433,"type":"quantitative","scale":{"domain":[-2,6],"nice":false,"zero":false},"axis":null},"y2":{"datum":-3.384597}}},
{"data":{"values":[{}]},"mark":{"type":"rect","fill":"#ffffff"},"encoding":{"x":{"datum":-4.76716,"type":"quantitative","scale":{"domain":[-3,5],"nice":false,"zero":false},"axis":null},"x2":{"datum":5.047284},"y":{"datum":7.217433,"type":"quantitative","scale":{"domain":[-2,6],"nice":false,"zero":false},"axis":null},"y2":{"datum":-3.384597}}},
{"data":{"values":[{}]},"mark":{"type":"rule","color":"#8a8a8a","strokeWidth":1},"encoding":{"x":{"datum":0,"type":"quantitative","scale":{"domain":[-3,5],"nice":false,"zero":false},"axis":null},"y":{"datum":-2,"type":"quantitative","scale":{"domain":[-2,6],"nice":false,"zero":false},"axis":null},"y2":{"datum":6}}},
{"data":{"values":[{}]},"mark":{"type":"rule","color":"#8a8a8a","strokeWidth":1},"encoding":{"y":{"datum":0,"type":"quantitative","scale":{"domain":[-2,6],"nice":false,"zero":false},"axis":null},"x":{"datum":-3,"type":"quantitative","scale":{"domain":[-3,5],"nice":false,"zero":false},"axis":null},"x2":{"datum":5}}},
{"data":{"values":[{}]},"mark":{"type":"rect","fill":null,"stroke":"#8a8a8a","strokeWidth":1.3},"encoding":{"x":{"datum":-3,"type":"quantitative","scale":{"domain":[-3,5],"nice":false,"zero":false},"axis":null},"x2":{"datum":5},"y":{"datum":-2,"type":"quantitative","scale":{"domain":[-2,6],"nice":false,"zero":false},"axis":null},"y2":{"datum":6}}},
{"data":{"name":"letters"},"transform":[{"filter":"datum.panel === 'p5'"}],"mark":{"type":"text","font":"DejaVu Sans","fontSize":17,"color":"#8f8f8f","align":"center","baseline":"middle"},"encoding":{"x":{"field":"u","type":"quantitative","scale":{"domain":[-3,5],"nice":false,"zero":false},"axis":{"orient":"bottom","zindex":1,"values":[-2,0,2,4],"tickSize":-7,"labelPadding":21,"labelFlush":false,"labelOverlap":false,"title":"u  ms\u207b\u00b9","titleY":52,"titleBaseline":"alphabetic"}},"y":{"field":"v","type":"quantitative","scale":{"domain":[-2,6],"nice":false,"zero":false},"axis":{"orient":"left","zindex":1,"values":[-2,0,2,4,6],"tickSize":-7,"labelPadding":15,"labelFlush":false,"labelOverlap":false,"title":"v  ms\u207b\u00b9","titleX":-47,"titleBaseline":"alphabetic"}},"text":{"field":"lab"}}},
{"data":{"name":"stats"},"transform":[{"filter":"datum.panel === 'p5'"}],"mark":{"type":"rule","color":"#111111","strokeWidth":2},"encoding":{"x":{"field":"ulo","type":"quantitative","scale":{"domain":[-3,5],"nice":false,"zero":false},"axis":{"orient":"top","zindex":1,"values":[-2,0,2,4],"tickSize":-7,"labels":false,"title":null}},"x2":{"field":"uhi"},"y":{"field":"vm","type":"quantitative","scale":{"domain":[-2,6],"nice":false,"zero":false},"axis":{"orient":"right","zindex":1,"values":[-2,0,2,4,6],"tickSize":-7,"labels":false,"title":null}}}},
{"data":{"name":"stats"},"transform":[{"filter":"datum.panel === 'p5'"}],"mark":{"type":"rule","color":"#111111","strokeWidth":2},"encoding":{"x":{"field":"um","type":"quantitative","scale":{"domain":[-3,5],"nice":false,"zero":false},"axis":{"orient":"bottom","zindex":1,"values":[-2.5,-1.5,-1,-0.5,0.5,1,1.5,2.5,3,3.5,4.5],"tickSize":-3.5,"labels":false,"domain":false,"title":null}},"y":{"field":"vlo","type":"quantitative","scale":{"domain":[-2,6],"nice":false,"zero":false},"axis":{"orient":"left","zindex":1,"values":[-1.5,-1,-0.5,0.5,1,1.5,2.5,3,3.5,4.5,5,5.5],"tickSize":-3.5,"labels":false,"domain":false,"title":null}},"y2":{"field":"vhi"}}},
{"data":{"name":"stats"},"transform":[{"filter":"datum.panel === 'p5'"},{"fold":["ulo","uhi"],"as":["kind","cu"]}],"mark":{"type":"point","shape":"M 0 -1 L 0 1","filled":false,"stroke":"#111111","strokeWidth":2,"opacity":1,"size":81},"encoding":{"x":{"field":"cu","type":"quantitative","scale":{"domain":[-3,5],"nice":false,"zero":false},"axis":null},"y":{"field":"vm","type":"quantitative","scale":{"domain":[-2,6],"nice":false,"zero":false},"axis":null}}},
{"data":{"name":"stats"},"transform":[{"filter":"datum.panel === 'p5'"},{"fold":["vlo","vhi"],"as":["kind","cv"]}],"mark":{"type":"point","shape":"M -1 0 L 1 0","filled":false,"stroke":"#111111","strokeWidth":2,"opacity":1,"size":81},"encoding":{"x":{"field":"um","type":"quantitative","scale":{"domain":[-3,5],"nice":false,"zero":false},"axis":null},"y":{"field":"cv","type":"quantitative","scale":{"domain":[-2,6],"nice":false,"zero":false},"axis":null}}},
{"data":{"name":"stats"},"transform":[{"filter":"datum.panel === 'p5'"}],"mark":{"type":"circle","fill":"#ffffff","stroke":"#111111","strokeWidth":1.5,"opacity":1,"size":330},"encoding":{"x":{"field":"um","type":"quantitative","scale":{"domain":[-3,5],"nice":false,"zero":false},"axis":{"orient":"top","zindex":1,"values":[-2.5,-1.5,-1,-0.5,0.5,1,1.5,2.5,3,3.5,4.5],"tickSize":-3.5,"labels":false,"domain":false,"title":null}},"y":{"field":"vm","type":"quantitative","scale":{"domain":[-2,6],"nice":false,"zero":false},"axis":{"orient":"right","zindex":1,"values":[-1.5,-1,-0.5,0.5,1,1.5,2.5,3,3.5,4.5,5,5.5],"tickSize":-3.5,"labels":false,"domain":false,"title":null}}}},
{"data":{"name":"stats"},"transform":[{"filter":"datum.panel === 'p5'"}],"mark":{"type":"rule","color":"#000000","strokeWidth":2.5},"encoding":{"x":{"field":"u0","type":"quantitative","scale":{"domain":[-3,5],"nice":false,"zero":false},"axis":null},"y":{"field":"v0","type":"quantitative","scale":{"domain":[-2,6],"nice":false,"zero":false},"axis":null},"x2":{"field":"au"},"y2":{"field":"av"}}},
{"data":{"name":"stats"},"transform":[{"filter":"datum.panel === 'p5'"},{"calculate":"atan2(datum.au, datum.av) * 180 / PI","as":"ang"}],"mark":{"type":"point","shape":"M -0.5 0.87 L 0 0 L 0.5 0.87","filled":false,"stroke":"#000000","strokeWidth":2.5,"opacity":1,"size":400,"strokeJoin":"miter"},"encoding":{"x":{"field":"au","type":"quantitative","scale":{"domain":[-3,5],"nice":false,"zero":false},"axis":null},"y":{"field":"av","type":"quantitative","scale":{"domain":[-2,6],"nice":false,"zero":false},"axis":null},"angle":{"field":"ang","type":"quantitative","scale":null}}}
]},
{"title":{"text":"JFM All","offset":-40},"width":335,"height":335,"resolve":{"axis":{"x":"independent","y":"independent"}},
"layer":[
{"data":{"values":[{}]},"mark":{"type":"rect","fill":{"gradient":"linear","x1":0,"y1":0,"x2":0,"y2":1,"stops":[{"offset":0,"color":"#000048"},{"offset":1,"color":"#000028"}]}},"encoding":{"x":{"datum":-5.650269,"type":"quantitative","scale":{"domain":[-3,5],"nice":false,"zero":false},"axis":null},"x2":{"datum":6.265194},"y":{"datum":7.217433,"type":"quantitative","scale":{"domain":[-2,6],"nice":false,"zero":false},"axis":null},"y2":{"datum":-3.384597}}},
{"data":{"values":[{}]},"mark":{"type":"rect","fill":"#ffffff"},"encoding":{"x":{"datum":-5.650269,"type":"quantitative","scale":{"domain":[-3,5],"nice":false,"zero":false},"axis":null},"x2":{"datum":5.47761},"y":{"datum":7.217433,"type":"quantitative","scale":{"domain":[-2,6],"nice":false,"zero":false},"axis":null},"y2":{"datum":-3.384597}}},
{"data":{"values":[{}]},"mark":{"type":"rule","color":"#8a8a8a","strokeWidth":1},"encoding":{"x":{"datum":0,"type":"quantitative","scale":{"domain":[-3,5],"nice":false,"zero":false},"axis":null},"y":{"datum":-2,"type":"quantitative","scale":{"domain":[-2,6],"nice":false,"zero":false},"axis":null},"y2":{"datum":6}}},
{"data":{"values":[{}]},"mark":{"type":"rule","color":"#8a8a8a","strokeWidth":1},"encoding":{"y":{"datum":0,"type":"quantitative","scale":{"domain":[-2,6],"nice":false,"zero":false},"axis":null},"x":{"datum":-3,"type":"quantitative","scale":{"domain":[-3,5],"nice":false,"zero":false},"axis":null},"x2":{"datum":5}}},
{"data":{"values":[{}]},"mark":{"type":"rect","fill":null,"stroke":"#8a8a8a","strokeWidth":1.3},"encoding":{"x":{"datum":-3,"type":"quantitative","scale":{"domain":[-3,5],"nice":false,"zero":false},"axis":null},"x2":{"datum":5},"y":{"datum":-2,"type":"quantitative","scale":{"domain":[-2,6],"nice":false,"zero":false},"axis":null},"y2":{"datum":6}}},
{"data":{"name":"letters"},"transform":[{"filter":"datum.panel === 'p6'"}],"mark":{"type":"text","font":"DejaVu Sans","fontSize":17,"color":"#8f8f8f","align":"center","baseline":"middle"},"encoding":{"x":{"field":"u","type":"quantitative","scale":{"domain":[-3,5],"nice":false,"zero":false},"axis":{"orient":"bottom","zindex":1,"values":[-2,0,2,4],"tickSize":-7,"labelPadding":21,"labelFlush":false,"labelOverlap":false,"title":"u  ms\u207b\u00b9","titleY":52,"titleBaseline":"alphabetic"}},"y":{"field":"v","type":"quantitative","scale":{"domain":[-2,6],"nice":false,"zero":false},"axis":{"orient":"left","zindex":1,"values":[-2,0,2,4,6],"tickSize":-7,"labelPadding":15,"labelFlush":false,"labelOverlap":false,"title":"v  ms\u207b\u00b9","titleX":-47,"titleBaseline":"alphabetic"}},"text":{"field":"lab"}}},
{"data":{"name":"stats"},"transform":[{"filter":"datum.panel === 'p6'"}],"mark":{"type":"rule","color":"#111111","strokeWidth":2},"encoding":{"x":{"field":"ulo","type":"quantitative","scale":{"domain":[-3,5],"nice":false,"zero":false},"axis":{"orient":"top","zindex":1,"values":[-2,0,2,4],"tickSize":-7,"labels":false,"title":null}},"x2":{"field":"uhi"},"y":{"field":"vm","type":"quantitative","scale":{"domain":[-2,6],"nice":false,"zero":false},"axis":{"orient":"right","zindex":1,"values":[-2,0,2,4,6],"tickSize":-7,"labels":false,"title":null}}}},
{"data":{"name":"stats"},"transform":[{"filter":"datum.panel === 'p6'"}],"mark":{"type":"rule","color":"#111111","strokeWidth":2},"encoding":{"x":{"field":"um","type":"quantitative","scale":{"domain":[-3,5],"nice":false,"zero":false},"axis":{"orient":"bottom","zindex":1,"values":[-2.5,-1.5,-1,-0.5,0.5,1,1.5,2.5,3,3.5,4.5],"tickSize":-3.5,"labels":false,"domain":false,"title":null}},"y":{"field":"vlo","type":"quantitative","scale":{"domain":[-2,6],"nice":false,"zero":false},"axis":{"orient":"left","zindex":1,"values":[-1.5,-1,-0.5,0.5,1,1.5,2.5,3,3.5,4.5,5,5.5],"tickSize":-3.5,"labels":false,"domain":false,"title":null}},"y2":{"field":"vhi"}}},
{"data":{"name":"stats"},"transform":[{"filter":"datum.panel === 'p6'"},{"fold":["ulo","uhi"],"as":["kind","cu"]}],"mark":{"type":"point","shape":"M 0 -1 L 0 1","filled":false,"stroke":"#111111","strokeWidth":2,"opacity":1,"size":81},"encoding":{"x":{"field":"cu","type":"quantitative","scale":{"domain":[-3,5],"nice":false,"zero":false},"axis":null},"y":{"field":"vm","type":"quantitative","scale":{"domain":[-2,6],"nice":false,"zero":false},"axis":null}}},
{"data":{"name":"stats"},"transform":[{"filter":"datum.panel === 'p6'"},{"fold":["vlo","vhi"],"as":["kind","cv"]}],"mark":{"type":"point","shape":"M -1 0 L 1 0","filled":false,"stroke":"#111111","strokeWidth":2,"opacity":1,"size":81},"encoding":{"x":{"field":"um","type":"quantitative","scale":{"domain":[-3,5],"nice":false,"zero":false},"axis":null},"y":{"field":"cv","type":"quantitative","scale":{"domain":[-2,6],"nice":false,"zero":false},"axis":null}}},
{"data":{"name":"stats"},"transform":[{"filter":"datum.panel === 'p6'"}],"mark":{"type":"circle","fill":"#ffffff","stroke":"#111111","strokeWidth":1.5,"opacity":1,"size":330},"encoding":{"x":{"field":"um","type":"quantitative","scale":{"domain":[-3,5],"nice":false,"zero":false},"axis":{"orient":"top","zindex":1,"values":[-2.5,-1.5,-1,-0.5,0.5,1,1.5,2.5,3,3.5,4.5],"tickSize":-3.5,"labels":false,"domain":false,"title":null}},"y":{"field":"vm","type":"quantitative","scale":{"domain":[-2,6],"nice":false,"zero":false},"axis":{"orient":"right","zindex":1,"values":[-1.5,-1,-0.5,0.5,1,1.5,2.5,3,3.5,4.5,5,5.5],"tickSize":-3.5,"labels":false,"domain":false,"title":null}}}},
{"data":{"name":"stats"},"transform":[{"filter":"datum.panel === 'p6'"}],"mark":{"type":"rule","color":"#000000","strokeWidth":2.5},"encoding":{"x":{"field":"u0","type":"quantitative","scale":{"domain":[-3,5],"nice":false,"zero":false},"axis":null},"y":{"field":"v0","type":"quantitative","scale":{"domain":[-2,6],"nice":false,"zero":false},"axis":null},"x2":{"field":"au"},"y2":{"field":"av"}}},
{"data":{"name":"stats"},"transform":[{"filter":"datum.panel === 'p6'"},{"calculate":"atan2(datum.au, datum.av) * 180 / PI","as":"ang"}],"mark":{"type":"point","shape":"M -0.5 0.87 L 0 0 L 0.5 0.87","filled":false,"stroke":"#000000","strokeWidth":2.5,"opacity":1,"size":400,"strokeJoin":"miter"},"encoding":{"x":{"field":"au","type":"quantitative","scale":{"domain":[-3,5],"nice":false,"zero":false},"axis":null},"y":{"field":"av","type":"quantitative","scale":{"domain":[-2,6],"nice":false,"zero":false},"axis":null},"angle":{"field":"ang","type":"quantitative","scale":null}}}
]},
{"title":{"text":"JJA Inshore","offset":-40},"width":335,"height":335,"resolve":{"axis":{"x":"independent","y":"independent"}},
"layer":[
{"data":{"values":[{}]},"mark":{"type":"rect","fill":{"gradient":"linear","x1":0,"y1":0,"x2":0,"y2":1,"stops":[{"offset":0,"color":"#000048"},{"offset":1,"color":"#000028"}]}},"encoding":{"x":{"datum":-5.69803,"type":"quantitative","scale":{"domain":[-3,5],"nice":false,"zero":false},"axis":null},"x2":{"datum":5.668179},"y":{"datum":7.217433,"type":"quantitative","scale":{"domain":[-2,6],"nice":false,"zero":false},"axis":null},"y2":{"datum":-3.384597}}},
{"data":{"values":[{}]},"mark":{"type":"rect","fill":"#ffffff"},"encoding":{"x":{"datum":-4.88657,"type":"quantitative","scale":{"domain":[-3,5],"nice":false,"zero":false},"axis":null},"x2":{"datum":5.668179},"y":{"datum":7.217433,"type":"quantitative","scale":{"domain":[-2,6],"nice":false,"zero":false},"axis":null},"y2":{"datum":-3.384597}}},
{"data":{"values":[{}]},"mark":{"type":"rule","color":"#8a8a8a","strokeWidth":1},"encoding":{"x":{"datum":0,"type":"quantitative","scale":{"domain":[-3,5],"nice":false,"zero":false},"axis":null},"y":{"datum":-2,"type":"quantitative","scale":{"domain":[-2,6],"nice":false,"zero":false},"axis":null},"y2":{"datum":6}}},
{"data":{"values":[{}]},"mark":{"type":"rule","color":"#8a8a8a","strokeWidth":1},"encoding":{"y":{"datum":0,"type":"quantitative","scale":{"domain":[-2,6],"nice":false,"zero":false},"axis":null},"x":{"datum":-3,"type":"quantitative","scale":{"domain":[-3,5],"nice":false,"zero":false},"axis":null},"x2":{"datum":5}}},
{"data":{"values":[{}]},"mark":{"type":"rect","fill":null,"stroke":"#8a8a8a","strokeWidth":1.3},"encoding":{"x":{"datum":-3,"type":"quantitative","scale":{"domain":[-3,5],"nice":false,"zero":false},"axis":null},"x2":{"datum":5},"y":{"datum":-2,"type":"quantitative","scale":{"domain":[-2,6],"nice":false,"zero":false},"axis":null},"y2":{"datum":6}}},
{"data":{"name":"letters"},"transform":[{"filter":"datum.panel === 'p7'"}],"mark":{"type":"text","font":"DejaVu Sans","fontSize":17,"color":"#8f8f8f","align":"center","baseline":"middle"},"encoding":{"x":{"field":"u","type":"quantitative","scale":{"domain":[-3,5],"nice":false,"zero":false},"axis":{"orient":"bottom","zindex":1,"values":[-2,0,2,4],"tickSize":-7,"labelPadding":21,"labelFlush":false,"labelOverlap":false,"title":"u  ms\u207b\u00b9","titleY":52,"titleBaseline":"alphabetic"}},"y":{"field":"v","type":"quantitative","scale":{"domain":[-2,6],"nice":false,"zero":false},"axis":{"orient":"left","zindex":1,"values":[-2,0,2,4,6],"tickSize":-7,"labelPadding":15,"labelFlush":false,"labelOverlap":false,"title":"v  ms\u207b\u00b9","titleX":-47,"titleBaseline":"alphabetic"}},"text":{"field":"lab"}}},
{"data":{"name":"stats"},"transform":[{"filter":"datum.panel === 'p7'"}],"mark":{"type":"rule","color":"#111111","strokeWidth":2},"encoding":{"x":{"field":"ulo","type":"quantitative","scale":{"domain":[-3,5],"nice":false,"zero":false},"axis":{"orient":"top","zindex":1,"values":[-2,0,2,4],"tickSize":-7,"labels":false,"title":null}},"x2":{"field":"uhi"},"y":{"field":"vm","type":"quantitative","scale":{"domain":[-2,6],"nice":false,"zero":false},"axis":{"orient":"right","zindex":1,"values":[-2,0,2,4,6],"tickSize":-7,"labels":false,"title":null}}}},
{"data":{"name":"stats"},"transform":[{"filter":"datum.panel === 'p7'"}],"mark":{"type":"rule","color":"#111111","strokeWidth":2},"encoding":{"x":{"field":"um","type":"quantitative","scale":{"domain":[-3,5],"nice":false,"zero":false},"axis":{"orient":"bottom","zindex":1,"values":[-2.5,-1.5,-1,-0.5,0.5,1,1.5,2.5,3,3.5,4.5],"tickSize":-3.5,"labels":false,"domain":false,"title":null}},"y":{"field":"vlo","type":"quantitative","scale":{"domain":[-2,6],"nice":false,"zero":false},"axis":{"orient":"left","zindex":1,"values":[-1.5,-1,-0.5,0.5,1,1.5,2.5,3,3.5,4.5,5,5.5],"tickSize":-3.5,"labels":false,"domain":false,"title":null}},"y2":{"field":"vhi"}}},
{"data":{"name":"stats"},"transform":[{"filter":"datum.panel === 'p7'"},{"fold":["ulo","uhi"],"as":["kind","cu"]}],"mark":{"type":"point","shape":"M 0 -1 L 0 1","filled":false,"stroke":"#111111","strokeWidth":2,"opacity":1,"size":81},"encoding":{"x":{"field":"cu","type":"quantitative","scale":{"domain":[-3,5],"nice":false,"zero":false},"axis":null},"y":{"field":"vm","type":"quantitative","scale":{"domain":[-2,6],"nice":false,"zero":false},"axis":null}}},
{"data":{"name":"stats"},"transform":[{"filter":"datum.panel === 'p7'"},{"fold":["vlo","vhi"],"as":["kind","cv"]}],"mark":{"type":"point","shape":"M -1 0 L 1 0","filled":false,"stroke":"#111111","strokeWidth":2,"opacity":1,"size":81},"encoding":{"x":{"field":"um","type":"quantitative","scale":{"domain":[-3,5],"nice":false,"zero":false},"axis":null},"y":{"field":"cv","type":"quantitative","scale":{"domain":[-2,6],"nice":false,"zero":false},"axis":null}}},
{"data":{"name":"stats"},"transform":[{"filter":"datum.panel === 'p7'"}],"mark":{"type":"circle","fill":"#ffffff","stroke":"#111111","strokeWidth":1.5,"opacity":1,"size":330},"encoding":{"x":{"field":"um","type":"quantitative","scale":{"domain":[-3,5],"nice":false,"zero":false},"axis":{"orient":"top","zindex":1,"values":[-2.5,-1.5,-1,-0.5,0.5,1,1.5,2.5,3,3.5,4.5],"tickSize":-3.5,"labels":false,"domain":false,"title":null}},"y":{"field":"vm","type":"quantitative","scale":{"domain":[-2,6],"nice":false,"zero":false},"axis":{"orient":"right","zindex":1,"values":[-1.5,-1,-0.5,0.5,1,1.5,2.5,3,3.5,4.5,5,5.5],"tickSize":-3.5,"labels":false,"domain":false,"title":null}}}},
{"data":{"name":"stats"},"transform":[{"filter":"datum.panel === 'p7'"}],"mark":{"type":"rule","color":"#000000","strokeWidth":2.5},"encoding":{"x":{"field":"u0","type":"quantitative","scale":{"domain":[-3,5],"nice":false,"zero":false},"axis":null},"y":{"field":"v0","type":"quantitative","scale":{"domain":[-2,6],"nice":false,"zero":false},"axis":null},"x2":{"field":"au"},"y2":{"field":"av"}}},
{"data":{"name":"stats"},"transform":[{"filter":"datum.panel === 'p7'"},{"calculate":"atan2(datum.au, datum.av) * 180 / PI","as":"ang"}],"mark":{"type":"point","shape":"M -0.5 0.87 L 0 0 L 0.5 0.87","filled":false,"stroke":"#000000","strokeWidth":2.5,"opacity":1,"size":400,"strokeJoin":"miter"},"encoding":{"x":{"field":"au","type":"quantitative","scale":{"domain":[-3,5],"nice":false,"zero":false},"axis":null},"y":{"field":"av","type":"quantitative","scale":{"domain":[-2,6],"nice":false,"zero":false},"axis":null},"angle":{"field":"ang","type":"quantitative","scale":null}}}
]},
{"title":{"text":"JJA All","offset":-40},"width":335,"height":335,"resolve":{"axis":{"x":"independent","y":"independent"}},
"layer":[
{"data":{"values":[{}]},"mark":{"type":"rect","fill":{"gradient":"linear","x1":0,"y1":0,"x2":0,"y2":1,"stops":[{"offset":0,"color":"#000048"},{"offset":1,"color":"#000028"}]}},"encoding":{"x":{"datum":-4.981612,"type":"quantitative","scale":{"domain":[-3,5],"nice":false,"zero":false},"axis":null},"x2":{"datum":5.238328},"y":{"datum":7.217433,"type":"quantitative","scale":{"domain":[-2,6],"nice":false,"zero":false},"axis":null},"y2":{"datum":-3.384597}}},
{"data":{"values":[{}]},"mark":{"type":"rect","fill":"#ffffff"},"encoding":{"x":{"datum":-4.981612,"type":"quantitative","scale":{"domain":[-3,5],"nice":false,"zero":false},"axis":null},"x2":{"datum":5.16716},"y":{"datum":7.217433,"type":"quantitative","scale":{"domain":[-2,6],"nice":false,"zero":false},"axis":null},"y2":{"datum":-3.384597}}},
{"data":{"values":[{}]},"mark":{"type":"rule","color":"#8a8a8a","strokeWidth":1},"encoding":{"x":{"datum":0,"type":"quantitative","scale":{"domain":[-3,5],"nice":false,"zero":false},"axis":null},"y":{"datum":-2,"type":"quantitative","scale":{"domain":[-2,6],"nice":false,"zero":false},"axis":null},"y2":{"datum":6}}},
{"data":{"values":[{}]},"mark":{"type":"rule","color":"#8a8a8a","strokeWidth":1},"encoding":{"y":{"datum":0,"type":"quantitative","scale":{"domain":[-2,6],"nice":false,"zero":false},"axis":null},"x":{"datum":-3,"type":"quantitative","scale":{"domain":[-3,5],"nice":false,"zero":false},"axis":null},"x2":{"datum":5}}},
{"data":{"values":[{}]},"mark":{"type":"rect","fill":null,"stroke":"#8a8a8a","strokeWidth":1.3},"encoding":{"x":{"datum":-3,"type":"quantitative","scale":{"domain":[-3,5],"nice":false,"zero":false},"axis":null},"x2":{"datum":5},"y":{"datum":-2,"type":"quantitative","scale":{"domain":[-2,6],"nice":false,"zero":false},"axis":null},"y2":{"datum":6}}},
{"data":{"name":"letters"},"transform":[{"filter":"datum.panel === 'p8'"}],"mark":{"type":"text","font":"DejaVu Sans","fontSize":17,"color":"#8f8f8f","align":"center","baseline":"middle"},"encoding":{"x":{"field":"u","type":"quantitative","scale":{"domain":[-3,5],"nice":false,"zero":false},"axis":{"orient":"bottom","zindex":1,"values":[-2,0,2,4],"tickSize":-7,"labelPadding":21,"labelFlush":false,"labelOverlap":false,"title":"u  ms\u207b\u00b9","titleY":52,"titleBaseline":"alphabetic"}},"y":{"field":"v","type":"quantitative","scale":{"domain":[-2,6],"nice":false,"zero":false},"axis":{"orient":"left","zindex":1,"values":[-2,0,2,4,6],"tickSize":-7,"labelPadding":15,"labelFlush":false,"labelOverlap":false,"title":"v  ms\u207b\u00b9","titleX":-47,"titleBaseline":"alphabetic"}},"text":{"field":"lab"}}},
{"data":{"name":"stats"},"transform":[{"filter":"datum.panel === 'p8'"}],"mark":{"type":"rule","color":"#111111","strokeWidth":2},"encoding":{"x":{"field":"ulo","type":"quantitative","scale":{"domain":[-3,5],"nice":false,"zero":false},"axis":{"orient":"top","zindex":1,"values":[-2,0,2,4],"tickSize":-7,"labels":false,"title":null}},"x2":{"field":"uhi"},"y":{"field":"vm","type":"quantitative","scale":{"domain":[-2,6],"nice":false,"zero":false},"axis":{"orient":"right","zindex":1,"values":[-2,0,2,4,6],"tickSize":-7,"labels":false,"title":null}}}},
{"data":{"name":"stats"},"transform":[{"filter":"datum.panel === 'p8'"}],"mark":{"type":"rule","color":"#111111","strokeWidth":2},"encoding":{"x":{"field":"um","type":"quantitative","scale":{"domain":[-3,5],"nice":false,"zero":false},"axis":{"orient":"bottom","zindex":1,"values":[-2.5,-1.5,-1,-0.5,0.5,1,1.5,2.5,3,3.5,4.5],"tickSize":-3.5,"labels":false,"domain":false,"title":null}},"y":{"field":"vlo","type":"quantitative","scale":{"domain":[-2,6],"nice":false,"zero":false},"axis":{"orient":"left","zindex":1,"values":[-1.5,-1,-0.5,0.5,1,1.5,2.5,3,3.5,4.5,5,5.5],"tickSize":-3.5,"labels":false,"domain":false,"title":null}},"y2":{"field":"vhi"}}},
{"data":{"name":"stats"},"transform":[{"filter":"datum.panel === 'p8'"},{"fold":["ulo","uhi"],"as":["kind","cu"]}],"mark":{"type":"point","shape":"M 0 -1 L 0 1","filled":false,"stroke":"#111111","strokeWidth":2,"opacity":1,"size":81},"encoding":{"x":{"field":"cu","type":"quantitative","scale":{"domain":[-3,5],"nice":false,"zero":false},"axis":null},"y":{"field":"vm","type":"quantitative","scale":{"domain":[-2,6],"nice":false,"zero":false},"axis":null}}},
{"data":{"name":"stats"},"transform":[{"filter":"datum.panel === 'p8'"},{"fold":["vlo","vhi"],"as":["kind","cv"]}],"mark":{"type":"point","shape":"M -1 0 L 1 0","filled":false,"stroke":"#111111","strokeWidth":2,"opacity":1,"size":81},"encoding":{"x":{"field":"um","type":"quantitative","scale":{"domain":[-3,5],"nice":false,"zero":false},"axis":null},"y":{"field":"cv","type":"quantitative","scale":{"domain":[-2,6],"nice":false,"zero":false},"axis":null}}},
{"data":{"name":"stats"},"transform":[{"filter":"datum.panel === 'p8'"}],"mark":{"type":"circle","fill":"#ffffff","stroke":"#111111","strokeWidth":1.5,"opacity":1,"size":330},"encoding":{"x":{"field":"um","type":"quantitative","scale":{"domain":[-3,5],"nice":false,"zero":false},"axis":{"orient":"top","zindex":1,"values":[-2.5,-1.5,-1,-0.5,0.5,1,1.5,2.5,3,3.5,4.5],"tickSize":-3.5,"labels":false,"domain":false,"title":null}},"y":{"field":"vm","type":"quantitative","scale":{"domain":[-2,6],"nice":false,"zero":false},"axis":{"orient":"right","zindex":1,"values":[-1.5,-1,-0.5,0.5,1,1.5,2.5,3,3.5,4.5,5,5.5],"tickSize":-3.5,"labels":false,"domain":false,"title":null}}}},
{"data":{"name":"stats"},"transform":[{"filter":"datum.panel === 'p8'"}],"mark":{"type":"rule","color":"#000000","strokeWidth":2.5},"encoding":{"x":{"field":"u0","type":"quantitative","scale":{"domain":[-3,5],"nice":false,"zero":false},"axis":null},"y":{"field":"v0","type":"quantitative","scale":{"domain":[-2,6],"nice":false,"zero":false},"axis":null},"x2":{"field":"au"},"y2":{"field":"av"}}},
{"data":{"name":"stats"},"transform":[{"filter":"datum.panel === 'p8'"},{"calculate":"atan2(datum.au, datum.av) * 180 / PI","as":"ang"}],"mark":{"type":"point","shape":"M -0.5 0.87 L 0 0 L 0.5 0.87","filled":false,"stroke":"#000000","strokeWidth":2.5,"opacity":1,"size":400,"strokeJoin":"miter"},"encoding":{"x":{"field":"au","type":"quantitative","scale":{"domain":[-3,5],"nice":false,"zero":false},"axis":null},"y":{"field":"av","type":"quantitative","scale":{"domain":[-2,6],"nice":false,"zero":false},"axis":null},"angle":{"field":"ang","type":"quantitative","scale":null}}}
]}
]
}
